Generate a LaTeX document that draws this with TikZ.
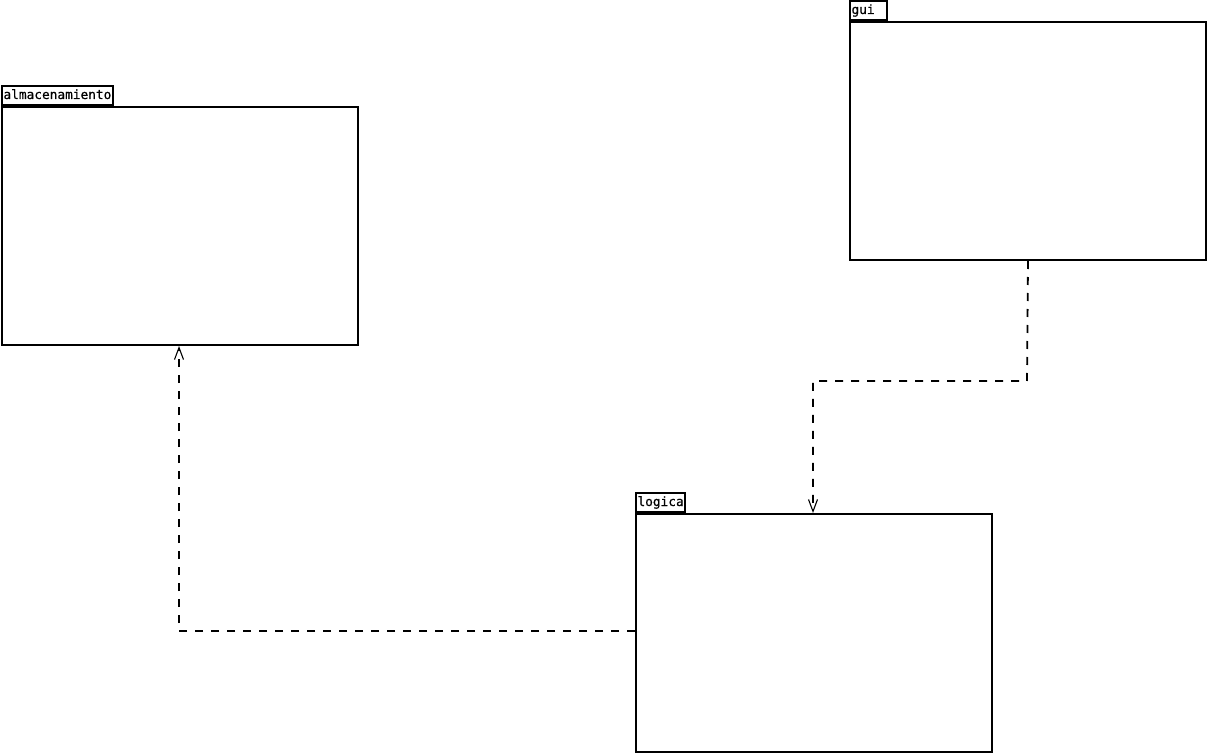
\documentclass[tikz,border=0pt]{standalone}
\usepackage{fontspec}
\newfontfamily\pkgfont[FakeBold=0.6]{DejaVu Sans Mono}
\usetikzlibrary{arrows.meta,positioning}
\tikzset{
  x=1pt,y=-1pt,
  pkgbody/.style={draw=black,line width=2pt,fill=white,rectangle,inner sep=0pt,minimum width=356pt,minimum height=238pt,anchor=north west},
  pkgtab/.style={draw=black,line width=2pt,fill=white,rectangle,inner sep=1.5pt,minimum height=19pt,anchor=south west,font=\pkgfont\fontsize{12.8}{14}\selectfont,text height=9pt,text depth=2pt,align=left},
  dep/.style={line width=1.8pt,dash pattern=on 8pt off 8pt,-{Straight Barb[length=12pt,width=9pt,line width=1.1pt]}}
}
\begin{document}
\begin{tikzpicture}
\useasboundingbox (0,0) rectangle (1207,754);
% almacenamiento
\node[pkgbody] (alm) at (1,106) {};
\node[pkgtab] (almtab) at (alm.north west) {almacenamiento};
% gui
\node[pkgbody] (gui) at (849,21) {};
\node[pkgtab,text width=34pt] (guitab) at (gui.north west) {gui};
% logica
\node[pkgbody] (log) at (635,513) {};
\node[pkgtab] (logtab) at (log.north west) {logica};
% connectors
\coordinate (g1) at (1027,381);
\coordinate (g2) at (813,381);
\draw[dep] (gui.south) -- (g1) -- (g2) -- (g2 |- log.north);
\coordinate (l1) at (179,631);
\draw[dep] (log.west |- l1) -- (l1) -- (l1 |- alm.south);
\end{tikzpicture}
\end{document}
